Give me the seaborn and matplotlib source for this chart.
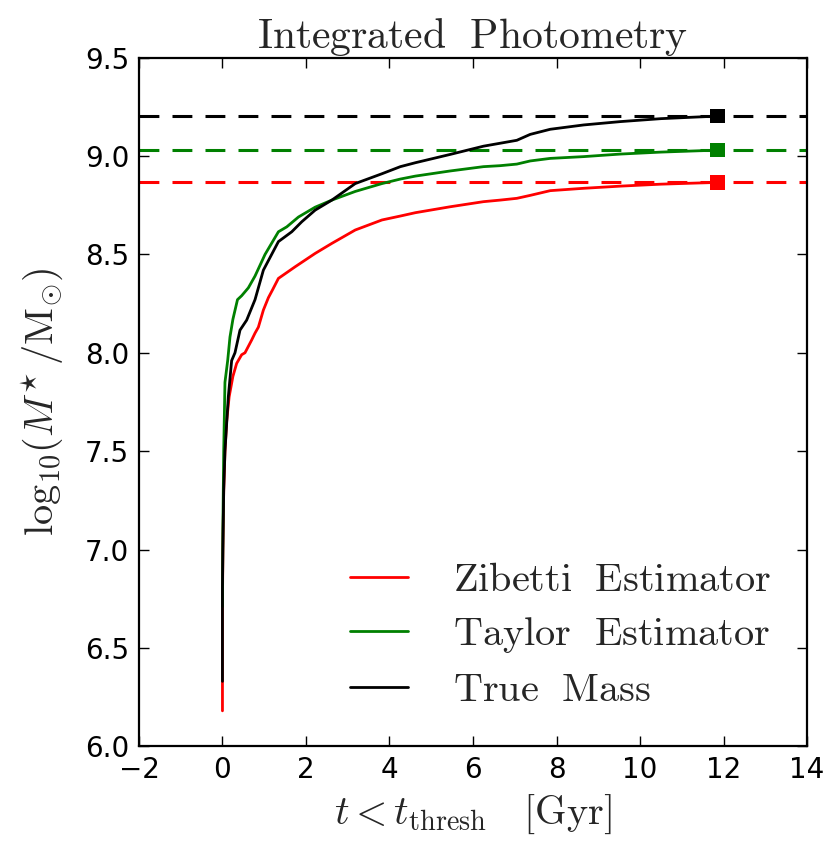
import numpy as np
import pandas as pd
import matplotlib
matplotlib.use("Agg")
import matplotlib.pyplot as plt
import seaborn as sns

# ---- data ----
t_zib = [0.0, 0.0, 0.01, 0.03, 0.06, 0.10, 0.16, 0.25, 0.34, 0.46, 0.54, 0.70, 0.78, 0.86,
         0.98, 1.10, 1.20, 1.34, 1.74, 2.22, 2.62, 3.18, 3.82, 4.26, 4.62, 5.45, 6.25,
         6.65, 7.05, 7.37, 7.85, 8.65, 9.53, 10.5, 11.85]
m_zib = [6.18, 6.70, 7.00, 7.30, 7.50, 7.65, 7.776, 7.88, 7.946, 7.99, 8.00, 8.065, 8.10, 8.13,
         8.217, 8.28, 8.32, 8.378, 8.437, 8.505, 8.556, 8.624, 8.675, 8.695, 8.712, 8.742, 8.768,
         8.776, 8.785, 8.80, 8.824, 8.836, 8.847, 8.857, 8.866]

t_tay = [0.0, 0.01, 0.03, 0.06, 0.125, 0.18, 0.25, 0.36, 0.46, 0.62, 0.78, 1.02, 1.34, 1.54,
         1.82, 2.22, 2.62, 3.18, 3.82, 4.26, 4.62, 5.45, 6.25, 6.65, 7.05, 7.37, 7.85, 8.65,
         9.53, 10.5, 11.85]
m_tay = [6.71, 7.10, 7.50, 7.85, 7.96, 8.08, 8.17, 8.27, 8.29, 8.33, 8.39, 8.50, 8.615, 8.64,
         8.69, 8.74, 8.776, 8.82, 8.86, 8.883, 8.898, 8.924, 8.946, 8.951, 8.959, 8.975, 8.988,
         8.997, 9.01, 9.02, 9.03]

t_true = [0.0, 0.0, 0.01, 0.03, 0.06, 0.14, 0.22, 0.30, 0.42, 0.58, 0.78, 0.98, 1.34, 1.66,
          1.90, 2.22, 2.62, 3.18, 3.82, 4.26, 4.62, 5.45, 6.25, 6.65, 7.05, 7.37, 7.85, 8.65,
          9.53, 10.5, 11.85]
m_true = [6.33, 6.80, 7.00, 7.30, 7.50, 7.776, 7.96, 8.00, 8.115, 8.166, 8.27, 8.42, 8.565, 8.615,
          8.666, 8.725, 8.776, 8.86, 8.91, 8.946, 8.966, 9.008, 9.05, 9.065, 9.08, 9.11, 9.136, 9.158,
          9.175, 9.19, 9.203]

labels = [r'$\mathrm{Zibetti\ \ Estimator}$',
          r'$\mathrm{Taylor\ \ Estimator}$',
          r'$\mathrm{True\ \ Mass}$']
colors = ['red', 'green', 'black']
final_t = [11.85, 11.85, 11.85]
final_m = [8.866, 9.03, 9.203]

# ---- style ----
sns.set_style("ticks")
plt.rcParams.update({
    'font.family': ['DejaVu Sans'],
    'mathtext.fontset': 'cm',
    'mathtext.rm': 'serif',
    'xtick.direction': 'in',
    'ytick.direction': 'in',
    'xtick.top': True,
    'ytick.right': True,
    'xtick.major.size': 7,
    'ytick.major.size': 7,
    'xtick.major.width': 1.0,
    'ytick.major.width': 1.0,
    'axes.linewidth': 1.6,
    'xtick.color': 'black',
    'ytick.color': 'black',
    'axes.edgecolor': 'black',
})

frames = []
for t, m, lab in zip([t_zib, t_tay, t_true], [m_zib, m_tay, m_true], labels):
    frames.append(pd.DataFrame({'t': t, 'm': m, 'series': lab}))
df = pd.concat(frames, ignore_index=True)
pal = dict(zip(labels, colors))

fig = plt.figure(figsize=(8.32, 8.48), dpi=100)
ax = fig.add_axes([0.167, 0.120, 0.803, 0.812])

sns.lineplot(data=df, x='t', y='m', hue='series', palette=pal, hue_order=labels,
             sort=False, estimator=None, linewidth=2.0, ax=ax)

for y, c in zip(final_m, colors):
    ax.axhline(y, color=c, linestyle=(0, (6.5, 4.3)), linewidth=2.2, zorder=1)

end_df = pd.DataFrame({'t': final_t, 'm': final_m, 'series': labels})
sns.scatterplot(data=end_df, x='t', y='m', hue='series', palette=pal, hue_order=labels,
                marker='s', s=110, edgecolor='none', legend=False, ax=ax, zorder=5)

ax.set_xlim(-2, 14)
ax.set_ylim(6.0, 9.5)
ax.set_xticks(np.arange(-2, 15, 2))
ax.set_yticks(np.arange(6.0, 9.51, 0.5))
ax.set_yticklabels([f'{v:.1f}' for v in np.arange(6.0, 9.51, 0.5)])
ax.set_xticklabels([str(v).replace('-', '\u2212') for v in range(-2, 15, 2)])
ax.tick_params(labelsize=20, pad=7)

ax.set_xlabel(r'$t < t_{\mathrm{thresh}}\ \ \ [\mathrm{Gyr}]$', fontsize=29, labelpad=6)
ax.set_ylabel(r'$\mathrm{log}_{10}(M^{\star}\,/\mathrm{M}_{\odot})$', fontsize=29, labelpad=14)
ax.set_title(r'$\mathrm{Integrated\ \ Photometry}$', fontsize=30, pad=6)

leg = ax.legend(loc='lower right', frameon=False, fontsize=29, handlelength=1.45,
                handletextpad=1.1, labelspacing=0.36, borderaxespad=0.5)

fig.savefig('out.png', dpi=100)
